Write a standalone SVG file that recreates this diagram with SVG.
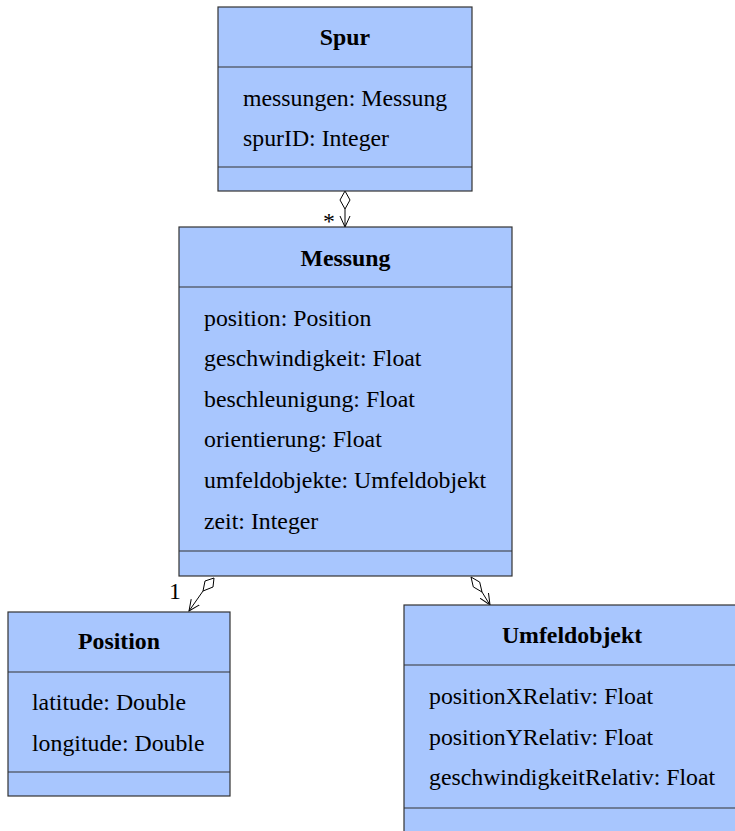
<svg xmlns="http://www.w3.org/2000/svg" width="735" height="831" viewBox="0 0 735 831">
<style>
.box{fill:#a8c6fe;stroke:#333;stroke-width:1.2}
.sep{stroke:#333;stroke-width:1.2}
text{font-family:"Liberation Serif","Times New Roman",serif;font-size:23.8px;fill:#000}
.t{font-weight:bold;text-anchor:middle}
.c{fill:none;stroke:#000;stroke-width:1}
.d{fill:#fff;stroke:#000;stroke-width:1}
</style>
<defs>
<marker id="arr" viewBox="0 0 12 12" refX="11" refY="6" markerWidth="12" markerHeight="12" markerUnits="userSpaceOnUse" orient="auto">
<path d="M0,1 L11,6 L0,11" fill="none" stroke="#000" stroke-width="1"/>
</marker>
</defs>
<g id="connectors">
<path class="c" d="M345,209 L345,227" marker-end="url(#arr)"/>
<path class="d" d="M345,191 L350,200 L345,209 L340,200 Z"/>
<text x="323" y="229">*</text>
<path class="c" d="M203,591 L189,611" marker-end="url(#arr)"/>
<path class="d" d="M214,578 L213,587 L203,591 L205,581 Z"/>
<text x="169" y="599">1</text>
<path class="c" d="M482,592 L490,605" marker-end="url(#arr)"/>
<path class="d" d="M471,577 L479.7,582.1 L482,592 L473.3,586.9 Z"/>
<text x="461" y="620">*</text>
</g>
<g id="Spur">
<rect class="box" x="218" y="7" width="254" height="184"/>
<line class="sep" x1="218" y1="67" x2="472" y2="67"/>
<line class="sep" x1="218" y1="167" x2="472" y2="167"/>
<text class="t" x="345" y="45">Spur</text>
<text x="243" y="106">messungen: Messung</text>
<text x="243" y="146">spurID: Integer</text>
</g>
<g id="Messung">
<rect class="box" x="179" y="227" width="333" height="349"/>
<line class="sep" x1="179" y1="287" x2="512" y2="287"/>
<line class="sep" x1="179" y1="551" x2="512" y2="551"/>
<text class="t" x="345.5" y="266">Messung</text>
<text x="204" y="326">position: Position</text>
<text x="204" y="366">geschwindigkeit: Float</text>
<text x="204" y="407">beschleunigung: Float</text>
<text x="204" y="447">orientierung: Float</text>
<text x="204" y="488">umfeldobjekte: Umfeldobjekt</text>
<text x="204" y="529">zeit: Integer</text>
</g>
<g id="Position">
<rect class="box" x="8" y="612" width="222" height="184"/>
<line class="sep" x1="8" y1="672" x2="230" y2="672"/>
<line class="sep" x1="8" y1="772" x2="230" y2="772"/>
<text class="t" x="119" y="649">Position</text>
<text x="32" y="710">latitude: Double</text>
<text x="32" y="751">longitude: Double</text>
</g>
<g id="Umfeldobjekt">
<rect class="box" x="404" y="605" width="340" height="240"/>
<line class="sep" x1="404" y1="665" x2="735" y2="665"/>
<line class="sep" x1="404" y1="808" x2="735" y2="808"/>
<text class="t" x="572" y="643">Umfeldobjekt</text>
<text x="429" y="704">positionXRelativ: Float</text>
<text x="429" y="745">positionYRelativ: Float</text>
<text x="429" y="785">geschwindigkeitRelativ: Float</text>
</g>
</svg>
